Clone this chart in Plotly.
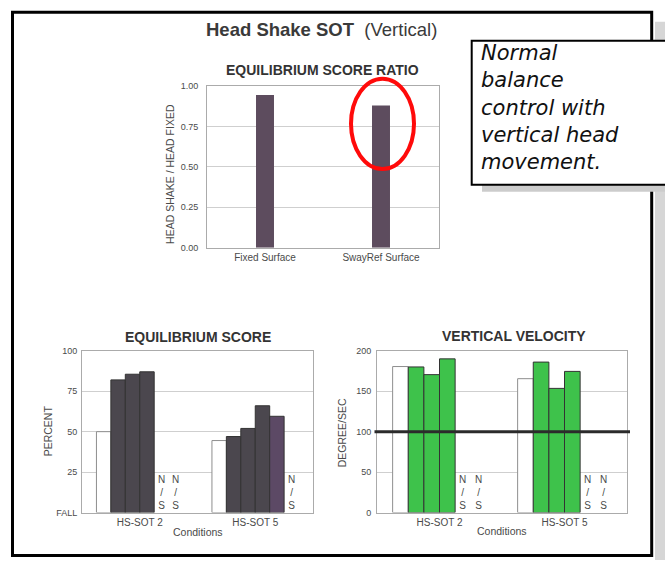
import plotly.graph_objects as go

W, H = 665, 565

# ---------------- data ----------------
ratio_categories = ["Fixed Surface", "SwayRef Surface"]
ratio_values = [0.945, 0.88]
ratio_tickvals = [0, 0.25, 0.5, 0.75, 1.0]
ratio_ticktext = ["0.00", "0.25", "0.50", "0.75", "1.00"]

conditions = ["HS-SOT 2", "HS-SOT 5"]
eq_norm = [50, 44.5]
eq_trial1 = [82, 47]
eq_trial2 = [85.5, 52]
eq_trial3 = [87, 66]
eq_trial4 = [None, 59.5]
eq_trial5 = [None, None]
eq_tickvals = [0, 25, 50, 75, 100]
eq_ticktext = ["FALL", "25", "50", "75", "100"]

vv_norm = [180.5, 165.5]
vv_trial1 = [180, 186]
vv_trial2 = [170.5, 153.5]
vv_trial3 = [190, 174.5]
vv_trial4 = [None, None]
vv_trial5 = [None, None]
vv_tickvals = [0, 50, 100, 150, 200]
vv_threshold = 100

note_lines = ["Normal", "balance", "control with", "vertical head", "movement."]

# ---------------- style ----------------
FONT = "Liberation Sans, Arial, Helvetica, sans-serif"
TXT = "#4a4a4a"
DARK = "#4b474e"
PURPLE = "#5c4965"
RATIO_C = "#5d4c5e"
GREEN = "#3ec24b"
GRID = "#cfcfcf"
AXLINE = "#ababab"
BARGAP = 0.25
NSLOT = 6


def px(x):
    return x / W


def py(y):
    return 1 - y / H


fig = go.Figure()

# top: ratio
fig.add_trace(go.Bar(x=ratio_categories, y=ratio_values, width=0.155,
                     marker=dict(color=RATIO_C, line=dict(width=0)),
                     xaxis="x", yaxis="y", showlegend=False, hoverinfo="x+y"))

eq_series = [eq_norm, eq_trial1, eq_trial2, eq_trial3, eq_trial4, eq_trial5]
eq_colors = [["white", "white"], [DARK, DARK], [DARK, DARK], [DARK, DARK],
             [DARK, PURPLE], [DARK, DARK]]
vv_series = [vv_norm, vv_trial1, vv_trial2, vv_trial3, vv_trial4, vv_trial5]
vv_colors = [["white", "white"]] + [[GREEN, GREEN]] * 5

for series, colors, xa, ya in [(eq_series, eq_colors, "x2", "y2"),
                               (vv_series, vv_colors, "x3", "y3")]:
    for i, (vals, cols) in enumerate(zip(series, colors)):
        fig.add_trace(go.Bar(
            x=conditions, y=vals, xaxis=xa, yaxis=ya, showlegend=False,
            marker=dict(color=cols,
                        line=dict(color="#8e8e8e" if i == 0 else "#333333", width=1)),
        ))

annotations = []
# N/S labels for missing trials
for series, xa, ya in [(eq_series, "x2", "y2"), (vv_series, "x3", "y3")]:
    for i, vals in enumerate(series):
        for g, v in enumerate(vals):
            if v is None:
                xpos = g + (i - (NSLOT - 1) / 2) * (1 - BARGAP) / NSLOT
                annotations.append(dict(
                    x=xpos, y=0, xref=xa, yref=ya, yanchor="bottom",
                    text="N<br>/<br>S", showarrow=False,
                    font=dict(family=FONT, size=10, color=TXT)))

# titles
annotations.append(dict(x=px(204), y=py(25), xref="paper", yref="paper",
                        xanchor="left", yanchor="middle", showarrow=False,
                        text="<b>Head Shake SOT</b>&nbsp;&nbsp;(Vertical)",
                        font=dict(family=FONT, size=18.5, color="#3a3a3a")))
for txt, xc, yc in [("EQUILIBRIUM SCORE RATIO", 322, 66.5),
                    ("EQUILIBRIUM SCORE", 198, 337.5),
                    ("VERTICAL VELOCITY", 514, 336.5)]:
    annotations.append(dict(x=px(xc), y=py(yc), xref="paper", yref="paper",
                            xanchor="center", yanchor="middle", showarrow=False,
                            text="<b>" + txt + "</b>",
                            font=dict(family=FONT, size=14, color="#333333")))
# axis titles
for txt, xc, yc, ang in [("HEAD SHAKE / HEAD FIXED", 170, 172, -90),
                         ("PERCENT", 48, 434, -90),
                         ("DEGREE/SEC", 342, 435, -90),
                         ("Conditions", 198, 536, 0),
                         ("Conditions", 502, 535, 0)]:
    annotations.append(dict(x=px(xc), y=py(yc), xref="paper", yref="paper",
                            xanchor="center", yanchor="middle", showarrow=False,
                            textangle=ang, text=txt,
                            font=dict(family=FONT, size=10.5, color=TXT)))
# note box text (one multi-line text block)
annotations.append(dict(x=px(479), y=py(104), xref="paper", yref="paper",
                        xanchor="left", yanchor="middle", align="left",
                        showarrow=False,
                        text="<i>" + "<br>".join(note_lines) + "</i>",
                        font=dict(family="DejaVu Sans, Verdana, sans-serif",
                                  size=21, color="#111111")))

shapes = [
    # page frame shadow
    dict(type="rect", xref="paper", yref="paper", x0=px(655), x1=1.0, y0=0, y1=py(17),
         fillcolor="#d6d6d6", line=dict(width=0)),
    # page frame
    dict(type="rect", xref="paper", yref="paper", x0=px(12.5), x1=px(651.7),
         y0=py(560.3), y1=py(7.5), line=dict(color="black", width=3)),
    # note box shadow
    dict(type="rect", xref="paper", yref="paper", x0=px(482), x1=1.02, y0=py(190), y1=py(46),
         fillcolor="#cccccc", line=dict(width=0)),
    # note box
    dict(type="rect", xref="paper", yref="paper", x0=px(471.7), x1=1.02, y0=py(183),
         y1=py(36.5), fillcolor="white", line=dict(color="black", width=2)),
    # red highlight ellipse
    dict(type="circle", xref="paper", yref="paper", x0=px(351), x1=px(414),
         y0=py(167), y1=py(75), line=dict(color="#ff0a0a", width=4)),
    # threshold line on vertical velocity
    dict(type="line", xref="x3 domain", yref="y3", x0=-0.01, x1=1.012,
         y0=vv_threshold, y1=vv_threshold, line=dict(color="#2b2b2b", width=3)),
]


def xax(l, r, anchor):
    return dict(domain=[px(l), px(r)], anchor=anchor, type="category",
                range=[-0.5, 1.5], showline=True, mirror=True, linecolor=AXLINE,
                linewidth=1, showgrid=False, ticks="", fixedrange=True,
                tickfont=dict(family=FONT, size=10, color=TXT))


def yax(t, b, anchor, rng, tv, tt, standoff):
    return dict(domain=[py(b), py(t)], anchor=anchor, range=rng, tickvals=tv,
                ticktext=tt, showline=True, mirror=True, linecolor=AXLINE,
                linewidth=1, showgrid=True, gridcolor=GRID, gridwidth=1,
                zeroline=False, ticks="", ticklabelstandoff=standoff,
                tickfont=dict(family=FONT, size=9, color=TXT))


fig.update_layout(
    width=W, height=H, margin=dict(l=0, r=0, t=0, b=0),
    paper_bgcolor="white", plot_bgcolor="white",
    barmode="group", bargap=BARGAP, bargroupgap=0,
    showlegend=False,
    xaxis=xax(207, 439, "y"),
    yaxis=yax(82.5, 247, "x", [0, 1], ratio_tickvals, ratio_ticktext, 6),
    xaxis2=xax(82, 313, "y2"),
    yaxis2=yax(352, 516.7, "x2", [0, 100], eq_tickvals, eq_ticktext, 2),
    xaxis3=xax(377, 627, "y3"),
    yaxis3=yax(352, 516.7, "x3", [0, 200], vv_tickvals,
               [str(v) for v in vv_tickvals], 3),
    annotations=annotations, shapes=shapes,
)

fig.write_html("out.html",
               config={"displayModeBar": False},
               post_script="document.body.style.margin='0';"
                           "document.body.style.overflow='hidden';")
